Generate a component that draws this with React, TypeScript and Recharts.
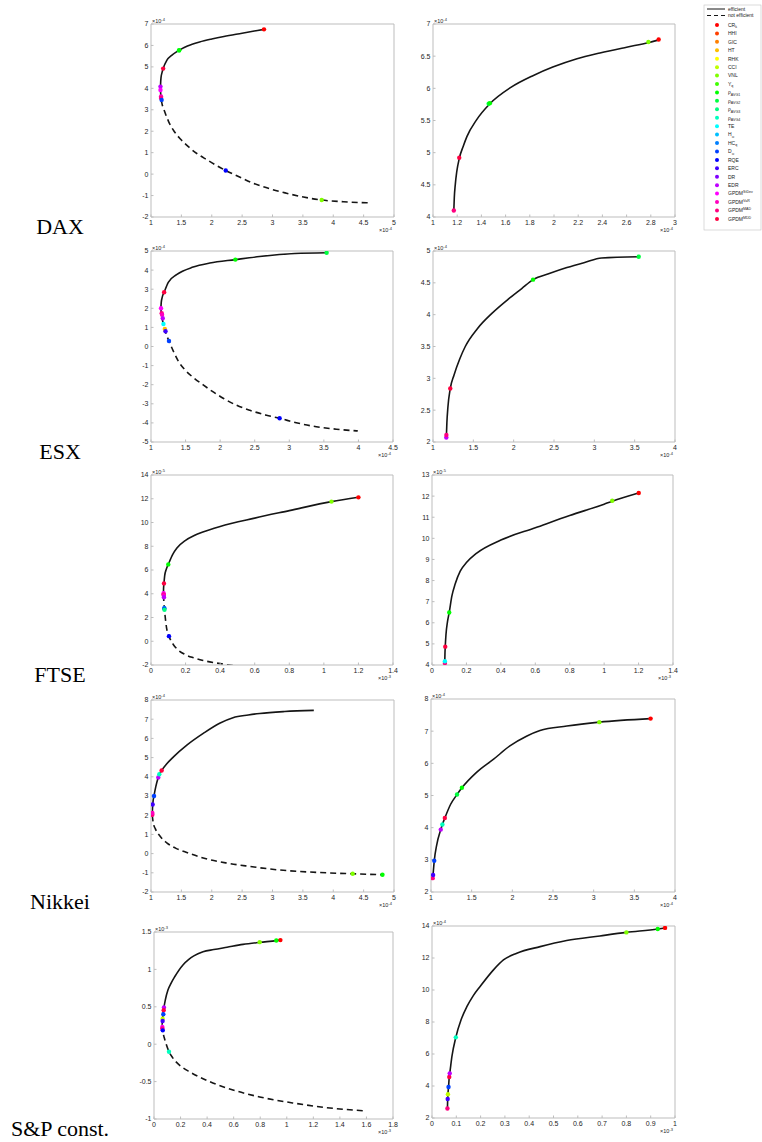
import React from 'react';
import { ComposedChart, Line, Scatter, XAxis, YAxis } from 'recharts';

// hsv colormap, one colour per diversification measure (legend order)
const MEASURE_COLORS = [
  '#ff0000', '#ff4000', '#ff8000', '#ffbf00', '#ffff00', '#bfff00', '#80ff00', '#40ff00',
  '#00ff00', '#00ff40', '#00ff80', '#00ffbf', '#00ffff', '#00bfff', '#0080ff', '#0040ff',
  '#0000ff', '#4000ff', '#8000ff', '#bf00ff', '#ff00ff', '#ff00bf', '#ff0080', '#ff0040',
];
const LEGEND_NAMES = [
  'CR', 'HHI', 'GIC', 'HT', 'RHK', 'CCI', 'VNL', 'Y', 'ρ', 'ρ', 'ρ', 'ρ',
  'TE', 'H', 'HC', 'D', 'RQE', 'ERC', 'DR', 'EDR', 'GPDM', 'GPDM', 'GPDM', 'GPDM',
];
const LEGEND_SUBS = [
  'k', '', '', '', '', '', '', 'q', 'AVG1', 'AVG2', 'AVG3', 'AVG4',
  '', '∞', 'q', '∞', '', '', '', '', '', '', '', '',
];
const LEGEND_SUPS = [
  '', '', '', '', '', '', '', '', '', '', '', '',
  '', '', '', '', '', '', '', '', 'StDev', 'VaR', 'MAD', 'MDD',
];
const MARKETS = ['DAX', 'ESX', 'FTSE', 'Nikkei', 'S&P const.'];

type Pt = [number, number];
type Mk = [number, number, number]; // x, y, measure index

// ---------- DAX ----------
const DAX_L_X = [1, 1.5, 2, 2.5, 3, 3.5, 4, 4.5, 5];
const DAX_L_Y = [-2, -1, 0, 1, 2, 3, 4, 5, 6, 7];
const DAX_L_EFF: Pt[] = [[1.156, 3.9], [1.158, 4.2], [1.165, 4.5], [1.18, 4.72], [1.2, 4.92], [1.26, 5.3], [1.35, 5.56], [1.46, 5.77], [1.6, 5.97], [1.8, 6.16], [2.0, 6.3], [2.2, 6.42], [2.5, 6.57], [2.7, 6.67], [2.86, 6.75]];
const DAX_L_INEFF: Pt[] = [[1.156, 3.9], [1.165, 3.55], [1.18, 3.3], [1.22, 2.95], [1.29, 2.45], [1.38, 2.0], [1.48, 1.65], [1.61, 1.29], [1.76, 0.95], [1.92, 0.67], [2.08, 0.4], [2.23, 0.17], [2.44, -0.11], [2.68, -0.42], [2.96, -0.69], [3.23, -0.89], [3.51, -1.07], [3.81, -1.21], [4.17, -1.29], [4.6, -1.34]];
const DAX_L_MARKS: Mk[] = [[2.86, 6.75, 0], [1.46, 5.77, 9], [1.465, 5.775, 8], [1.2, 4.92, 23], [1.156, 4.08, 19], [1.156, 3.92, 20], [1.165, 3.62, 21], [1.165, 3.55, 22], [1.175, 3.46, 15], [2.23, 0.17, 16], [3.81, -1.21, 6]];
const DAX_R_X = [1, 1.2, 1.4, 1.6, 1.8, 2, 2.2, 2.4, 2.6, 2.8, 3];
const DAX_R_Y = [4, 4.5, 5, 5.5, 6, 6.5, 7];
const DAX_R_EFF: Pt[] = [[1.172, 4.1], [1.176, 4.3], [1.184, 4.5], [1.196, 4.7], [1.217, 4.91], [1.25, 5.1], [1.28, 5.25], [1.36, 5.51], [1.47, 5.76], [1.64, 6.01], [1.83, 6.2], [1.99, 6.33], [2.19, 6.46], [2.38, 6.55], [2.6, 6.64], [2.78, 6.71], [2.86, 6.75]];
const DAX_R_MARKS: Mk[] = [[1.172, 4.1, 22], [1.217, 4.92, 23], [1.46, 5.76, 9], [1.47, 5.77, 8], [2.78, 6.72, 6], [2.865, 6.76, 0]];

// ---------- ESX ----------
const ESX_L_X = [1, 1.5, 2, 2.5, 3, 3.5, 4, 4.5];
const ESX_L_Y = [-5, -4, -3, -2, -1, 0, 1, 2, 3, 4, 5];
const ESX_L_EFF: Pt[] = [[1.143, 2.0], [1.148, 2.3], [1.16, 2.55], [1.19, 2.84], [1.25, 3.36], [1.37, 3.76], [1.61, 4.16], [1.85, 4.37], [2.22, 4.55], [2.57, 4.71], [3.08, 4.87], [3.54, 4.91]];
const ESX_L_INEFF: Pt[] = [[1.143, 2.0], [1.15, 1.7], [1.165, 1.4], [1.19, 1.0], [1.225, 0.6], [1.27, 0.2], [1.33, -0.3], [1.4, -0.8], [1.49, -1.22], [1.61, -1.62], [1.75, -2.0], [1.9, -2.38], [2.05, -2.72], [2.24, -3.08], [2.43, -3.34], [2.67, -3.6], [2.86, -3.76], [3.1, -3.99], [3.39, -4.2], [3.68, -4.33], [3.99, -4.42]];
const ESX_L_MARKS: Mk[] = [[3.54, 4.91, 9], [2.22, 4.55, 8], [1.19, 2.84, 23], [1.145, 2.0, 20], [1.155, 1.74, 22], [1.16, 1.66, 21], [1.17, 1.48, 19], [1.18, 1.18, 12], [1.2, 0.92, 3], [1.21, 0.8, 17], [1.26, 0.29, 15], [2.86, -3.76, 16]];
const ESX_R_X = [1, 1.5, 2, 2.5, 3, 3.5, 4];
const ESX_R_Y = [2, 2.5, 3, 3.5, 4, 4.5, 5];
const ESX_R_EFF: Pt[] = [[1.165, 2.06], [1.172, 2.3], [1.185, 2.55], [1.214, 2.84], [1.26, 3.05], [1.33, 3.3], [1.4, 3.5], [1.55, 3.78], [1.73, 4.02], [1.93, 4.24], [2.1, 4.41], [2.24, 4.55], [2.45, 4.65], [2.66, 4.74], [2.88, 4.82], [3.09, 4.89], [3.55, 4.91]];
const ESX_R_MARKS: Mk[] = [[1.165, 2.07, 19], [1.166, 2.11, 22], [1.214, 2.84, 23], [2.24, 4.55, 8], [3.55, 4.91, 9]];

// ---------- FTSE ----------
const FTSE_L_X = [0, 0.2, 0.4, 0.6, 0.8, 1, 1.2, 1.4];
const FTSE_L_Y = [-2, 0, 2, 4, 6, 8, 10, 12, 14];
const FTSE_L_EFF: Pt[] = [[0.072, 3.9], [0.0725, 4.4], [0.075, 4.87], [0.079, 5.5], [0.088, 6.05], [0.1, 6.47], [0.125, 7.3], [0.15, 7.85], [0.2, 8.5], [0.25, 8.9], [0.3, 9.2], [0.4, 9.67], [0.6, 10.37], [0.8, 11.0], [1.044, 11.76], [1.2, 12.12]];
const FTSE_L_INEFF: Pt[] = [[0.072, 3.9], [0.074, 3.4], [0.077, 2.75], [0.081, 2.2], [0.09, 1.13], [0.104, 0.43], [0.129, -0.27], [0.158, -0.75], [0.196, -1.11], [0.245, -1.39], [0.302, -1.62], [0.36, -1.79], [0.42, -1.93], [0.5, -2.1]];
const FTSE_L_MARKS: Mk[] = [[1.2, 12.12, 0], [1.044, 11.76, 6], [0.1, 6.47, 8], [0.075, 4.87, 23], [0.073, 4.05, 20], [0.073, 3.95, 22], [0.074, 3.85, 21], [0.075, 3.7, 19], [0.077, 2.8, 14], [0.077, 2.75, 15], [0.078, 2.65, 10], [0.104, 0.43, 16]];
const FTSE_R_X = [0, 0.2, 0.4, 0.6, 0.8, 1, 1.2, 1.4];
const FTSE_R_Y = [4, 5, 6, 7, 8, 9, 10, 11, 12, 13];
const FTSE_R_EFF: Pt[] = [[0.074, 4.1], [0.0755, 4.6], [0.077, 4.87], [0.081, 5.42], [0.09, 6.05], [0.1, 6.49], [0.115, 7.25], [0.135, 7.85], [0.164, 8.45], [0.2, 8.85], [0.26, 9.3], [0.4, 9.92], [0.6, 10.5], [0.8, 11.08], [1.0, 11.62], [1.047, 11.76], [1.2, 12.15]];
const FTSE_R_MARKS: Mk[] = [[0.075, 4.09, 22], [0.075, 4.18, 12], [0.077, 4.87, 23], [0.1, 6.49, 8], [1.047, 11.78, 6], [1.201, 12.15, 0]];

// ---------- Nikkei ----------
const NIK_L_X = [1, 1.5, 2, 2.5, 3, 3.5, 4, 4.5, 5];
const NIK_L_Y = [-2, -1, 0, 1, 2, 3, 4, 5, 6, 7, 8];
const NIK_L_EFF: Pt[] = [[1.02, 2.0], [1.024, 2.3], [1.03, 2.6], [1.05, 3.02], [1.08, 3.5], [1.12, 3.98], [1.137, 4.14], [1.175, 4.33], [1.26, 4.68], [1.37, 5.04], [1.59, 5.65], [1.86, 6.26], [2.13, 6.79], [2.35, 7.08], [2.6, 7.22], [2.79, 7.3], [3.2, 7.4], [3.68, 7.46]];
const NIK_L_INEFF: Pt[] = [[1.02, 2.0], [1.03, 1.75], [1.045, 1.5], [1.07, 1.3], [1.15, 0.9], [1.26, 0.56], [1.42, 0.26], [1.6, 0.05], [1.86, -0.23], [2.24, -0.49], [2.63, -0.67], [3.07, -0.84], [3.61, -0.96], [4.32, -1.05], [4.81, -1.1]];
const NIK_L_MARKS: Mk[] = [[1.022, 2.02, 22], [1.022, 2.12, 21], [1.027, 2.56, 17], [1.05, 3.0, 15], [1.12, 3.97, 19], [1.137, 4.13, 11], [1.175, 4.33, 23], [4.32, -1.05, 6], [4.81, -1.1, 8]];
const NIK_R_X = [1, 1.5, 2, 2.5, 3, 3.5, 4];
const NIK_R_Y = [2, 3, 4, 5, 6, 7, 8];
const NIK_R_EFF: Pt[] = [[1.021, 2.42], [1.028, 2.62], [1.04, 2.97], [1.07, 3.46], [1.12, 3.94], [1.14, 4.1], [1.17, 4.3], [1.24, 4.72], [1.32, 5.03], [1.38, 5.24], [1.56, 5.72], [1.77, 6.13], [1.97, 6.54], [2.18, 6.85], [2.34, 7.02], [2.67, 7.16], [3.07, 7.28], [3.7, 7.39]];
const NIK_R_MARKS: Mk[] = [[1.021, 2.43, 22], [1.026, 2.53, 17], [1.04, 2.97, 15], [1.12, 3.94, 19], [1.14, 4.1, 11], [1.17, 4.3, 23], [1.32, 5.03, 9], [1.38, 5.24, 8], [3.07, 7.28, 6], [3.7, 7.39, 0]];

// ---------- S&P constituents ----------
const SP_L_X = [0, 0.2, 0.4, 0.6, 0.8, 1, 1.2, 1.4, 1.6, 1.8];
const SP_L_Y = [-1, -0.5, 0, 0.5, 1, 1.5];
const SP_L_EFF: Pt[] = [[0.0615, 0.26], [0.064, 0.32], [0.068, 0.4], [0.074, 0.48], [0.085, 0.589], [0.105, 0.723], [0.13, 0.82], [0.156, 0.902], [0.218, 1.06], [0.26, 1.13], [0.3, 1.18], [0.369, 1.235], [0.45, 1.265], [0.55, 1.297], [0.67, 1.335], [0.796, 1.362], [0.921, 1.385], [0.952, 1.392]];
const SP_L_INEFF: Pt[] = [[0.0615, 0.26], [0.064, 0.2], [0.07, 0.14], [0.08, 0.07], [0.092, 0.0], [0.113, -0.1], [0.14, -0.18], [0.168, -0.24], [0.21, -0.305], [0.269, -0.37], [0.419, -0.5], [0.62, -0.625], [0.796, -0.705], [1.047, -0.786], [1.298, -0.848], [1.6, -0.893]];
const SP_L_MARKS: Mk[] = [[0.952, 1.392, 0], [0.921, 1.387, 8], [0.796, 1.364, 6], [0.075, 0.49, 19], [0.073, 0.455, 23], [0.07, 0.4, 15], [0.065, 0.34, 5], [0.065, 0.31, 17], [0.063, 0.23, 20], [0.063, 0.21, 22], [0.066, 0.185, 16], [0.113, -0.1, 11]];
const SP_R_X = [0, 0.1, 0.2, 0.3, 0.4, 0.5, 0.6, 0.7, 0.8, 0.9, 1];
const SP_R_Y = [2, 4, 6, 8, 10, 12, 14];
const SP_R_EFF: Pt[] = [[0.0635, 2.6], [0.0645, 3.19], [0.0655, 3.48], [0.068, 3.94], [0.071, 4.56], [0.074, 4.9], [0.082, 5.85], [0.098, 7.04], [0.12, 8.15], [0.144, 8.97], [0.17, 9.65], [0.198, 10.22], [0.253, 11.26], [0.294, 11.88], [0.349, 12.3], [0.445, 12.71], [0.554, 13.09], [0.691, 13.38], [0.8, 13.6], [0.929, 13.81], [0.959, 13.88]];
const SP_R_MARKS: Mk[] = [[0.0635, 2.59, 22], [0.0645, 3.19, 17], [0.0655, 3.48, 5], [0.068, 3.94, 15], [0.071, 4.56, 23], [0.073, 4.79, 19], [0.098, 7.04, 11], [0.8, 13.6, 6], [0.929, 13.81, 8], [0.959, 13.88, 0]];

// ---------- layout ----------
type Box = { l: number; t: number; r: number; b: number };
interface PanelDef {
  box: Box;
  xTicks: number[];
  yTicks: number[];
  eff: Pt[];
  ineff?: Pt[];
  marks: Mk[];
  xExp: string;
  yExp: string;
}

const PANELS: PanelDef[] = [
  { box: { l: 151, t: 24, r: 394, b: 217 }, xTicks: DAX_L_X, yTicks: DAX_L_Y, eff: DAX_L_EFF, ineff: DAX_L_INEFF, marks: DAX_L_MARKS, xExp: '-4', yExp: '-4' },
  { box: { l: 433, t: 24, r: 675, b: 217 }, xTicks: DAX_R_X, yTicks: DAX_R_Y, eff: DAX_R_EFF, marks: DAX_R_MARKS, xExp: '-4', yExp: '-4' },
  { box: { l: 151, t: 251, r: 393, b: 442 }, xTicks: ESX_L_X, yTicks: ESX_L_Y, eff: ESX_L_EFF, ineff: ESX_L_INEFF, marks: ESX_L_MARKS, xExp: '-4', yExp: '-4' },
  { box: { l: 433, t: 251, r: 675, b: 442 }, xTicks: ESX_R_X, yTicks: ESX_R_Y, eff: ESX_R_EFF, marks: ESX_R_MARKS, xExp: '-4', yExp: '-4' },
  { box: { l: 151, t: 475, r: 393, b: 665 }, xTicks: FTSE_L_X, yTicks: FTSE_L_Y, eff: FTSE_L_EFF, ineff: FTSE_L_INEFF, marks: FTSE_L_MARKS, xExp: '-3', yExp: '-5' },
  { box: { l: 432, t: 475, r: 673, b: 665 }, xTicks: FTSE_R_X, yTicks: FTSE_R_Y, eff: FTSE_R_EFF, marks: FTSE_R_MARKS, xExp: '-3', yExp: '-5' },
  { box: { l: 151, t: 700, r: 394, b: 892 }, xTicks: NIK_L_X, yTicks: NIK_L_Y, eff: NIK_L_EFF, ineff: NIK_L_INEFF, marks: NIK_L_MARKS, xExp: '-4', yExp: '-4' },
  { box: { l: 431, t: 699, r: 675, b: 892 }, xTicks: NIK_R_X, yTicks: NIK_R_Y, eff: NIK_R_EFF, marks: NIK_R_MARKS, xExp: '-4', yExp: '-4' },
  { box: { l: 154, t: 932, r: 393, b: 1119 }, xTicks: SP_L_X, yTicks: SP_L_Y, eff: SP_L_EFF, ineff: SP_L_INEFF, marks: SP_L_MARKS, xExp: '-3', yExp: '-3' },
  { box: { l: 432, t: 926, r: 675, b: 1118 }, xTicks: SP_R_X, yTicks: SP_R_Y, eff: SP_R_EFF, marks: SP_R_MARKS, xExp: '-3', yExp: '-4' },
];
const ROW_BASELINES = [234, 459, 682, 909, 1136];

const YW = 24;
const XH = 16;
const MT = 4;
const MR = 6;
const AXIS = '#bdbdbd';
const INK = '#262626';
const LINE = '#151515';
const TICK_FONT = { fontSize: 7, fill: INK, fontFamily: 'Liberation Sans, Arial, sans-serif' };

const toRows = (pts: Pt[]) => pts.map(([x, y]) => ({ x, y }));

function MarkerDot(props: any) {
  const { cx, cy, payload } = props;
  if (cx == null || cy == null) return <g />;
  return <circle cx={cx} cy={cy} r={2.2} fill={MEASURE_COLORS[payload.c]} />;
}

function Panel({ box, xTicks, yTicks, eff, ineff, marks }: PanelDef) {
  const w = box.r - box.l;
  const h = box.b - box.t;
  const xDom = [xTicks[0], xTicks[xTicks.length - 1]];
  const yDom = [yTicks[0], yTicks[yTicks.length - 1]];
  const markRows = marks.map(([x, y, c]) => ({ x, y, c }));
  const effRows = toRows(eff);
  return (
    <div style={{ position: 'absolute', left: box.l - YW, top: box.t - MT }}>
      <ComposedChart
        width={w + YW + MR}
        height={h + MT + XH}
        margin={{ top: MT, right: MR, bottom: 0, left: 0 }}
      >
        <XAxis
          xAxisId="b"
          type="number"
          dataKey="x"
          domain={xDom}
          ticks={xTicks}
          interval={0}
          allowDataOverflow
          height={XH}
          stroke={AXIS}
          tickSize={-2.5}
          tickMargin={6}
          tick={TICK_FONT}
        />
        <XAxis
          xAxisId="t"
          orientation="top"
          mirror
          type="number"
          dataKey="x"
          domain={xDom}
          ticks={xTicks}
          interval={0}
          allowDataOverflow
          height={1}
          stroke={AXIS}
          tickSize={2.5}
          tick={false}
        />
        <YAxis
          yAxisId="l"
          type="number"
          dataKey="y"
          domain={yDom}
          ticks={yTicks}
          interval={0}
          allowDataOverflow
          width={YW}
          stroke={AXIS}
          tickSize={-2.5}
          tickMargin={5}
          tick={TICK_FONT}
        />
        <YAxis
          yAxisId="r"
          orientation="right"
          mirror
          type="number"
          dataKey="y"
          domain={yDom}
          ticks={yTicks}
          interval={0}
          allowDataOverflow
          width={1}
          stroke={AXIS}
          tickSize={2.5}
          tick={false}
        />
        {/* invisible copy on the top/right axes so that the box axes are drawn */}
        <Line
          xAxisId="t"
          yAxisId="r"
          data={effRows}
          dataKey="y"
          stroke="none"
          dot={false}
          activeDot={false}
          isAnimationActive={false}
        />
        {ineff && (
          <Line
            xAxisId="b"
            yAxisId="l"
            data={toRows(ineff)}
            dataKey="y"
            type="monotone"
            stroke={LINE}
            strokeWidth={1.6}
            strokeDasharray="6 4"
            dot={false}
            activeDot={false}
            isAnimationActive={false}
          />
        )}
        <Line
          xAxisId="b"
          yAxisId="l"
          data={effRows}
          dataKey="y"
          type="monotone"
          stroke={LINE}
          strokeWidth={1.6}
          dot={false}
          activeDot={false}
          isAnimationActive={false}
        />
        <Scatter
          xAxisId="b"
          yAxisId="l"
          data={markRows}
          dataKey="y"
          shape={MarkerDot}
          isAnimationActive={false}
        />
      </ComposedChart>
    </div>
  );
}

function Exponent({ x, y, exp, anchor }: { x: number; y: number; exp: string; anchor: 'start' | 'end' }) {
  return (
    <text x={x} y={y} textAnchor={anchor} fontSize={5.5} fill={INK} fontFamily="Liberation Sans, Arial, sans-serif">
      <tspan>×10</tspan>
      <tspan dy={-2.5} fontSize={4}>{exp}</tspan>
    </text>
  );
}

function Legend() {
  const top = 25;
  const step = 8.43;
  const font = 'Liberation Sans, Arial, sans-serif';
  return (
    <g fontFamily={font} fill="#222">
      <rect x={704} y={5} width={57} height={225} fill="#fff" stroke="#c4c4c4" strokeWidth={0.6} />
      <line x1={707} y1={9} x2={725} y2={9} stroke={LINE} strokeWidth={1} />
      <text x={728} y={10.8} fontSize={5}>efficient</text>
      <line x1={707} y1={15.5} x2={725} y2={15.5} stroke={LINE} strokeWidth={1} strokeDasharray="4 3" />
      <text x={728} y={17.3} fontSize={5}>not efficient</text>
      {LEGEND_NAMES.map((name, i) => {
        const y = top + i * step;
        return (
          <g key={i}>
            <circle cx={717} cy={y} r={2} fill={MEASURE_COLORS[i]} />
            <text x={728} y={y + 1.8} fontSize={5}>
              <tspan>{name}</tspan>
              {LEGEND_SUBS[i] && <tspan dy={1.6} fontSize={3.6}>{LEGEND_SUBS[i]}</tspan>}
              {LEGEND_SUPS[i] && <tspan dy={-2} fontSize={3.6}>{LEGEND_SUPS[i]}</tspan>}
            </text>
          </g>
        );
      })}
    </g>
  );
}

export default function App() {
  return (
    <div style={{ position: 'absolute', left: 0, top: 0, width: 762, height: 1142, background: '#fff' }}>
      {PANELS.map((p, i) => (
        <Panel key={i} {...p} />
      ))}
      <svg
        width={762}
        height={1142}
        style={{ position: 'absolute', left: 0, top: 0, pointerEvents: 'none' }}
      >
        {PANELS.map((p, i) => (
          <g key={i}>
            <Exponent x={p.box.l + 1} y={p.box.t - 1} exp={p.yExp} anchor="start" />
            <Exponent x={p.box.r - 2} y={p.box.b + 15} exp={p.xExp} anchor="end" />
          </g>
        ))}
        {MARKETS.map((m, i) => (
          <text
            key={m}
            x={60}
            y={ROW_BASELINES[i]}
            textAnchor="middle"
            fontSize={22}
            fill="#000"
            fontFamily="Liberation Serif, 'DejaVu Serif', serif"
          >
            {m}
          </text>
        ))}
        <Legend />
      </svg>
    </div>
  );
}
